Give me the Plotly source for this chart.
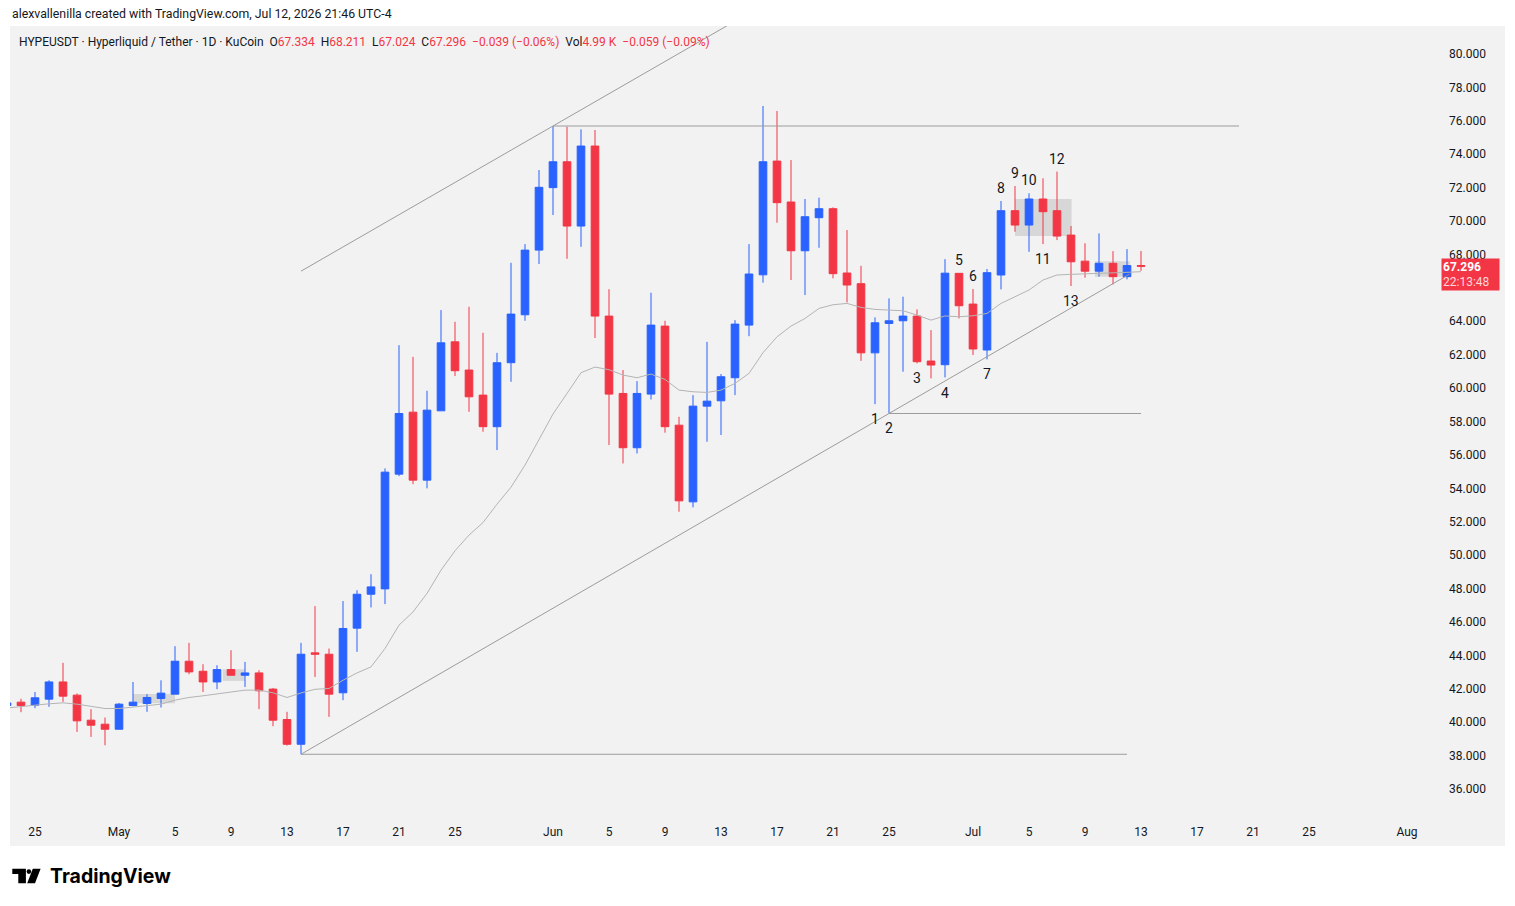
import plotly.graph_objects as go
import pandas as pd

# ---------------- data ----------------
dates = pd.date_range("2026-04-23", "2026-07-13", freq="D").strftime("%Y-%m-%d").tolist()

open_ = [41.0, 41.2, 41.02, 41.38, 42.41, 41.62, 40.12, 39.88,
         39.58, 41.0, 41.12, 41.42, 41.68, 43.65, 43.05, 42.41, 43.15, 42.81, 42.95, 41.98, 40.16, 38.68,
         44.15, 44.07, 41.76, 45.63, 47.66, 47.98, 54.85, 58.56, 54.49, 58.64, 62.77, 61.08, 59.58, 57.69,
         61.52, 64.39, 68.26,
         72.0, 73.55, 69.7, 74.49, 64.31, 59.68, 56.43, 59.64, 63.71, 57.78, 53.19, 58.92, 59.24, 60.62,
         63.77, 66.78, 73.59, 71.14, 68.22, 70.2, 70.74, 66.89, 66.25, 62.11, 63.87, 64.03, 64.31, 61.62,
         61.4, 66.87,
         65.03, 62.28, 66.77, 70.62, 69.76, 71.32, 70.62, 69.16, 67.6, 67.0, 67.47, 66.67, 67.334]
high = [41.25, 41.4, 41.81, 42.51, 43.55, 41.72, 40.78, 40.28,
        41.15, 42.41, 41.68, 42.51, 44.55, 44.75, 43.47, 43.41, 44.31, 43.61, 43.11, 42.05, 40.62, 44.75,
        46.95, 44.41, 47.25, 47.9, 48.86, 55.19, 62.57, 61.87, 59.84, 64.67, 63.97, 64.87, 63.31, 62.11,
        67.5, 68.62, 73.05,
        75.69, 75.65, 75.49, 75.45, 65.92, 61.08, 60.42, 65.71, 64.03, 58.28, 59.58, 62.77, 60.84, 64.07,
        68.62, 76.89, 76.59, 73.65, 71.32, 71.4, 70.82, 69.46, 67.32, 64.23, 65.37, 65.47, 64.71, 63.47,
        67.72, 66.87,
        65.93, 67.13, 71.2, 72.1, 71.66, 72.56, 72.96, 69.7, 68.67, 69.26, 68.2, 68.32, 68.211]
low = [40.9, 40.6, 40.84, 40.92, 41.22, 39.42, 39.12, 38.62,
       39.58, 40.96, 40.62, 40.88, 41.68, 42.87, 41.81, 41.98, 42.81, 42.11, 40.78, 39.76, 38.6, 38.08,
       42.71, 40.32, 41.32, 44.21, 46.87, 47.07, 54.73, 54.25, 54.0, 58.64, 60.72, 58.58, 57.39, 56.29,
       60.38, 64.03, 67.43,
       70.36, 67.74, 68.46, 63.0, 56.59, 55.49, 56.09, 59.32, 57.33, 52.6, 52.86, 56.79, 57.19, 59.58,
       63.11, 66.31, 69.9, 66.47, 65.57, 68.4, 66.57, 65.13, 61.63, 59.04, 58.48, 60.98, 61.48, 60.58,
       60.64, 64.17,
       61.98, 61.72, 65.91, 69.36, 68.16, 68.62, 68.86, 66.11, 66.61, 66.67, 66.21, 66.51, 67.024]
close = [41.15, 41.0, 41.46, 42.41, 41.56, 40.08, 39.82, 39.58,
         41.08, 41.2, 41.48, 41.74, 43.65, 43.01, 42.41, 43.15, 42.81, 42.95, 41.88, 40.12, 38.68, 44.07,
         44.07, 41.68, 45.61, 47.66, 48.1, 54.97, 58.48, 54.49, 58.68, 62.71, 61.04, 59.48, 57.69, 61.52,
         64.43, 68.26, 72.02,
         73.55, 69.7, 74.49, 64.31, 59.64, 56.43, 59.68, 63.77, 57.69, 53.25, 58.92, 59.22, 60.68, 63.83,
         66.83, 73.55, 71.1, 68.22, 70.26, 70.74, 66.85, 66.17, 62.11, 63.91, 64.03, 64.31, 61.58, 61.38,
         66.88, 64.93,
         62.34, 66.91, 70.62, 69.76, 71.32, 70.56, 69.1, 67.56, 67.0, 67.47, 66.67, 67.334, 67.296]
ma = [40.85, 40.95, 41.02, 41.1, 41.16, 41.08, 40.95, 40.82,
      40.82, 40.9, 40.96, 41.08, 41.32, 41.48, 41.58, 41.68, 41.8, 41.92, 41.92, 41.76, 41.48, 41.75,
      41.97, 42.02, 42.51, 42.95, 43.31, 44.41, 45.81, 46.6, 47.71, 49.1, 50.26, 51.2, 51.95, 53.05,
      54.07, 55.39, 56.92,
      58.45, 59.68, 60.92, 61.26, 61.1, 60.78, 60.62, 60.84, 60.52, 59.88, 59.78, 59.74, 59.88, 60.28,
      60.88, 62.12, 63.07, 63.71, 64.17, 64.77, 64.99, 65.07, 64.83, 64.71, 64.67, 64.63, 64.37, 64.07,
      64.32, 64.27,
      64.33, 64.47, 65.07, 65.47, 65.87, 66.47, 66.77, 66.81, 66.83, 66.87, 66.91, 66.93, 66.97]

tick_dates = ["2026-04-25", "2026-05-01", "2026-05-05", "2026-05-09", "2026-05-13", "2026-05-17",
              "2026-05-21", "2026-05-25", "2026-06-01", "2026-06-05", "2026-06-09", "2026-06-13",
              "2026-06-17", "2026-06-21", "2026-06-25", "2026-07-01", "2026-07-05", "2026-07-09",
              "2026-07-13", "2026-07-17", "2026-07-21", "2026-07-25", "2026-08-01"]
tick_text = ["25", "May", "5", "9", "13", "17", "21", "25", "Jun", "5", "9", "13", "17", "21", "25",
             "Jul", "5", "9", "13", "17", "21", "25", "Aug"]
# 66.000 sits behind the last-price badge in the reference
price_ticks = [v for v in range(36, 81, 2) if v != 66]

# wave count labels
wave_labels = ["1", "2", "3", "4", "5", "6", "7", "8", "9", "10", "11", "12", "13"]
wave_dates = ["2026-06-24", "2026-06-25", "2026-06-27", "2026-06-29", "2026-06-30", "2026-07-01",
              "2026-07-02", "2026-07-03", "2026-07-04", "2026-07-05", "2026-07-06", "2026-07-07",
              "2026-07-08"]
wave_prices = [58.15, 57.61, 60.6, 59.71, 67.67, 66.71, 60.84, 71.98, 72.88, 72.46, 67.73, 73.71, 65.21]

# drawings
upper_anchor = (("2026-05-14", 67.0), ("2026-06-01", 75.69))
lower_anchor = (("2026-05-14", 38.08), ("2026-06-25", 58.48))
res_level = (75.69, "2026-06-01", "2026-07-20")
sup_level = (38.08, "2026-05-14", "2026-07-12")
mid_level = (58.48, "2026-06-25", "2026-07-13")
zones = [("2026-05-02", "2026-05-05", 41.13, 41.69),
         ("2026-05-08 10:00", "2026-05-10", 42.47, 43.17),
         ("2026-07-04", "2026-07-08 01:00", 69.1, 71.32),
         ("2026-07-09 17:00", "2026-07-12 05:00", 66.67, 67.6)]

last_price = 67.296

# ---------------- styling ----------------
BLUE = "#2962FF"
RED = "#F23645"
TXT = "#131722"
BG = "#f2f2f2"
LINE = "#9c9c9c"
FONT = "Roboto"

W, H = 1515, 906
ML, MR, MT, MB = 10, 83, 26, 91
PW, PH = W - ML - MR, H - MT - MB


def px(x):
    return (x - ML) / PW


def py(y):
    return (H - MB - y) / PH


fig = go.Figure()

fig.add_trace(go.Scatter(x=dates, y=ma, mode="lines", line=dict(color="#b4b4b4", width=1),
                         hoverinfo="skip", showlegend=False))

fig.add_trace(go.Candlestick(
    x=dates, open=open_, high=high, low=low, close=close,
    increasing=dict(line=dict(color=BLUE, width=1), fillcolor=BLUE),
    decreasing=dict(line=dict(color=RED, width=1), fillcolor=RED),
    whiskerwidth=0, showlegend=False))

shapes = []
# chart background (including axes area)
shapes.append(dict(type="rect", xref="paper", yref="paper", x0=px(10), x1=px(1505), y0=py(846), y1=py(26),
                   fillcolor=BG, line=dict(width=0), layer="below"))
for x0, x1, y0, y1 in zones:
    shapes.append(dict(type="rect", xref="x", yref="y", x0=x0, x1=x1, y0=y0, y1=y1,
                       fillcolor="rgba(0,0,0,0.11)", line=dict(width=0), layer="below"))


def ext_line(anchor, end_date):
    (d0, v0), (d1, v1) = anchor
    t0, t1, te = pd.Timestamp(d0), pd.Timestamp(d1), pd.Timestamp(end_date)
    slope = (v1 - v0) / ((t1 - t0).total_seconds())
    ve = v0 + slope * (te - t0).total_seconds()
    return dict(type="line", xref="x", yref="y", x0=d0, y0=v0, x1=end_date, y1=ve,
                line=dict(color=LINE, width=1))


shapes.append(ext_line(upper_anchor, "2026-06-25"))
shapes.append(ext_line(lower_anchor, "2026-07-12 04:00"))
for lvl, d0, d1 in (res_level, sup_level, mid_level):
    shapes.append(dict(type="line", xref="x", yref="y", x0=d0, x1=d1, y0=lvl, y1=lvl,
                       line=dict(color=LINE, width=1)))

annotations = []
for t, d, p in zip(wave_labels, wave_dates, wave_prices):
    annotations.append(dict(x=d, y=p, xref="x", yref="y", text=t, showarrow=False,
                            font=dict(family=FONT, size=14, color=TXT)))

annotations.append(dict(xref="paper", yref="paper", x=px(10), y=py(14), xanchor="left", yanchor="middle",
                        text="alexvallenilla created with TradingView.com, Jul 12, 2026 21:46 UTC-4",
                        showarrow=False, font=dict(family=FONT, size=12.3, color=TXT)))

r = lambda s: f"<span style='color:{RED}'>{s}</span>"
header = ("HYPEUSDT · Hyperliquid / Tether · 1D · KuCoin  "
          "O" + r("67.334") + "  H" + r("68.211") + "  L" + r("67.024") + "  C" + r("67.296") +
          "  " + r("−0.039 (−0.06%)") + "  Vol" + r("4.99 K") + "  " + r("−0.059 (−0.09%)"))
annotations.append(dict(xref="paper", yref="paper", x=px(17), y=py(42), xanchor="left", yanchor="middle",
                        text=header, showarrow=False, font=dict(family=FONT, size=12, color=TXT)))

annotations.append(dict(xref="paper", yref="y", x=px(1441), y=last_price, xanchor="left", yanchor="top",
                        yshift=8, width=55, height=29, align="left", bgcolor=RED, borderpad=1,
                        text="<b>67.296</b><br><span style='color:#ffd6d9'>22:13:48</span>",
                        showarrow=False, font=dict(family=FONT, size=12, color="white")))

annotations.append(dict(xref="paper", yref="paper", x=px(48), y=py(876), xanchor="left", yanchor="middle",
                        text="<b>TradingView</b>", showarrow=False,
                        font=dict(family="Inter", size=19.5, color="#000000")))

# TradingView logo glyph
shapes.append(dict(type="path", xref="paper", yref="paper", fillcolor="#000000", line=dict(width=0),
                   path=(f"M {px(12.3)},{py(868.8)} L {px(25.9)},{py(868.8)} L {px(25.9)},{py(883.2)} "
                         f"L {px(18.3)},{py(883.2)} L {px(18.3)},{py(874)} L {px(12.3)},{py(874)} Z")))
shapes.append(dict(type="circle", xref="paper", yref="paper", fillcolor="#000000", line=dict(width=0),
                   x0=px(26.6), x1=px(31.2), y0=py(874.0), y1=py(869.2)))
shapes.append(dict(type="path", xref="paper", yref="paper", fillcolor="#000000", line=dict(width=0),
                   path=(f"M {px(32.8)},{py(868.8)} L {px(40.6)},{py(868.8)} L {px(35)},{py(883.2)} "
                         f"L {px(27.2)},{py(883.2)} Z")))

x_lo = pd.Timestamp("2026-04-25") + pd.Timedelta(days=(ML - 35) / 14)
x_hi = pd.Timestamp("2026-04-25") + pd.Timedelta(days=(W - MR - 35) / 14)
y_lo = 80 - (H - MB - 54) / 16.705
y_hi = 80 + (54 - MT) / 16.705

fig.update_layout(
    width=W, height=H, margin=dict(l=ML, r=MR, t=MT, b=MB, pad=0),
    paper_bgcolor="white", plot_bgcolor=BG, boxgap=0.22,
    showlegend=False, shapes=shapes, annotations=annotations,
    font=dict(family=FONT, size=12, color=TXT),
    xaxis=dict(type="date", range=[x_lo, x_hi], tickvals=tick_dates, ticktext=tick_text,
               showgrid=False, zeroline=False, showline=False, ticks="", ticklabelstandoff=8,
               rangeslider=dict(visible=False), tickfont=dict(size=12, color=TXT)),
    yaxis=dict(side="right", range=[y_lo, y_hi], tickvals=price_ticks,
               ticktext=[f"{v:.3f}" for v in price_ticks], showgrid=False, zeroline=False,
               showline=False, ticks="", ticklabelstandoff=16, tickfont=dict(size=12, color=TXT)),
)

fig.write_html("out.html")
